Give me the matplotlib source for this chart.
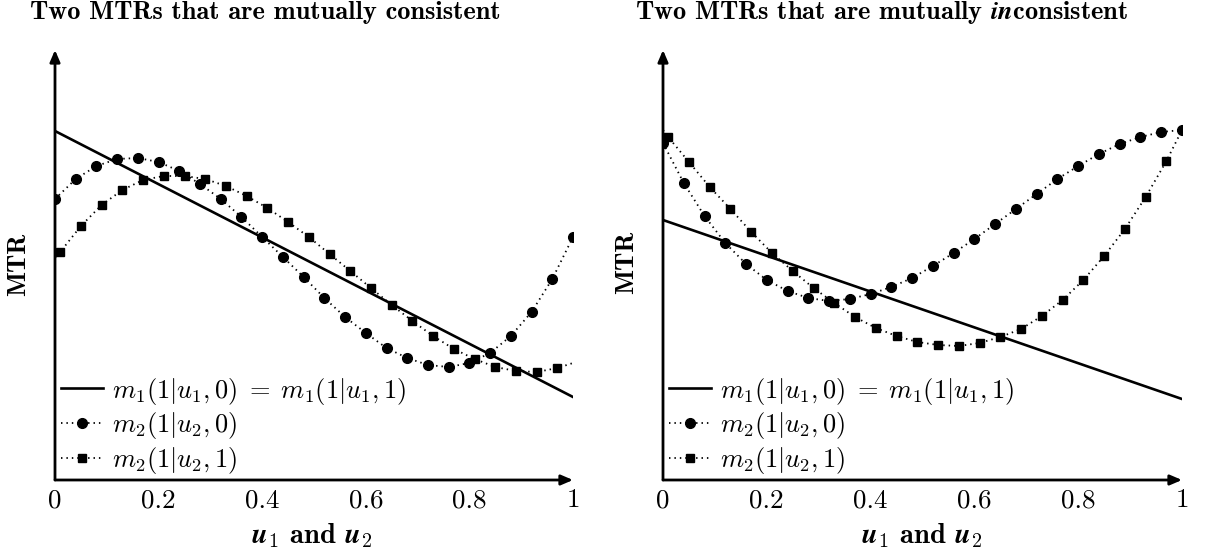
import matplotlib
matplotlib.use("Agg")
import matplotlib.pyplot as plt
import numpy as np

plt.rcParams['mathtext.fontset'] = 'cm'
plt.rcParams['font.family'] = 'cmr10'
plt.rcParams['axes.unicode_minus'] = False
plt.rcParams['axes.formatter.use_mathtext'] = True

# ---- data (y in arbitrary MTR units) ----
u_line = [0.0, 1.0]
u_circ = [0.00, 0.04, 0.08, 0.12, 0.16, 0.20, 0.24, 0.28, 0.32, 0.36, 0.40, 0.44, 0.48,
          0.52, 0.56, 0.60, 0.64, 0.68, 0.72, 0.76, 0.80, 0.84, 0.88, 0.92, 0.96, 1.00]
u_sq = [0.00, 0.01, 0.05, 0.09, 0.13, 0.17, 0.21, 0.25, 0.29, 0.33, 0.37, 0.41, 0.45, 0.49,
        0.53, 0.57, 0.61, 0.65, 0.69, 0.73, 0.77, 0.81, 0.85, 0.89, 0.93, 0.97, 1.00]

left_m1 = [3.49, 0.83]
left_m2_0 = [2.81, 3.01, 3.14, 3.21, 3.22, 3.18, 3.09, 2.96, 2.81, 2.63, 2.43, 2.23, 2.03,
             1.82, 1.63, 1.47, 1.32, 1.22, 1.15, 1.13, 1.17, 1.27, 1.44, 1.68, 2.01, 2.43]
left_m2_1 = [2.22, 2.28, 2.54, 2.75, 2.90, 3.00, 3.04, 3.04, 3.01, 2.94, 2.84, 2.72, 2.58, 2.43,
             2.26, 2.09, 1.92, 1.75, 1.59, 1.44, 1.31, 1.21, 1.13, 1.09, 1.08, 1.12, 1.17]

right_m1 = [2.60, 0.81]
right_m2_0 = [3.37, 2.97, 2.64, 2.37, 2.16, 2.00, 1.89, 1.82, 1.79, 1.81, 1.86, 1.93, 2.02,
              2.14, 2.27, 2.41, 2.56, 2.71, 2.86, 3.01, 3.14, 3.26, 3.36, 3.43, 3.48, 3.50]
right_m2_1 = [3.50, 3.43, 3.18, 2.93, 2.71, 2.48, 2.27, 2.09, 1.92, 1.77, 1.63, 1.52, 1.44, 1.38,
              1.35, 1.34, 1.37, 1.43, 1.51, 1.64, 1.80, 2.00, 2.24, 2.51, 2.83, 3.19, 3.50]

xticks = [0, 0.2, 0.4, 0.6, 0.8, 1]
xticklabels = ['0', '0.2', '0.4', '0.6', '0.8', '1']

labels = [r'$m_1(1|u_1,0)\;=\;m_1(1|u_1,1)$', r'$m_2(1|u_2,0)$', r'$m_2(1|u_2,1)$']

W, H = 1227, 554
fig = plt.figure(figsize=(W / 100, H / 100), dpi=100)

FS = 19.5
LFS = 19.0


def make_axes(x0, x1, m1, m20, m21):
    ax = fig.add_axes([x0 / W, (H - 480) / H, (x1 - x0) / W, 430 / H])
    ax.plot(u_line, m1, color='black', lw=1.9, label=labels[0])
    ax.plot(u_circ, m20, color='black', lw=1.3, ls=(0, (0.8, 2.2)), marker='o', ms=7.0,
            label=labels[1])
    ax.plot(u_sq, m21, color='black', lw=1.3, ls=(0, (0.8, 2.2)), marker='s', ms=6.4,
            markevery=list(range(1, len(u_sq) - 1)), label=labels[2])
    ax.set_xlim(0, 1)
    ax.set_ylim(0, 4.30)
    for s in ax.spines.values():
        s.set_visible(False)
    ax.set_yticks([])
    ax.set_xticks(xticks)
    ax.set_xticklabels(xticklabels, fontsize=FS)
    ax.tick_params(axis='x', length=0, pad=6)
    ax.patch.set_alpha(0)
    ax.annotate('', xy=(1.0, 0), xytext=(0, 0), xycoords='axes fraction',
                arrowprops=dict(arrowstyle='-|>,head_length=0.7,head_width=0.3', lw=2.0,
                                color='black', shrinkA=0, shrinkB=0), annotation_clip=False)
    ax.annotate('', xy=(0, 1.0), xytext=(0, 0), xycoords='axes fraction',
                arrowprops=dict(arrowstyle='-|>,head_length=0.7,head_width=0.3', lw=2.0,
                                color='black', shrinkA=0, shrinkB=0), annotation_clip=False)
    ax.legend(loc='lower left', bbox_to_anchor=(0.004, 0.0), frameon=False, fontsize=LFS,
              handlelength=1.6, handletextpad=0.35, labelspacing=0.14, borderpad=0.15,
              borderaxespad=0.0)
    return ax


axL = make_axes(55, 573, left_m1, left_m2_0, left_m2_1)
axR = make_axes(663, 1182, right_m1, right_m2_0, right_m2_1)

# titles
TFS = 19
fig.text(265 / W, 1 - 13 / H, 'Two MTRs that are mutually consistent', ha='center', va='center',
         family='cmb10', fontsize=TFS)
fig.text(882 / W, 1 - 13 / H, r'Two MTRs that are mutually $\mathbfit{in}$consistent',
         ha='center', va='center', family='cmb10', fontsize=TFS)

# y labels
fig.text(19 / W, 1 - 264 / H, 'MTR', rotation=90, ha='center', va='center', family='cmb10',
         fontsize=19)
fig.text(627 / W, 1 - 262 / H, 'MTR', rotation=90, ha='center', va='center', family='cmb10',
         fontsize=19)

# x labels
for xc in (312, 922):
    fig.text(xc / W, 1 - 536 / H, r'$\mathbfit{u}_\mathbf{1}$ and $\mathbfit{u}_\mathbf{2}$',
             ha='center', va='center', family='cmb10', fontsize=20.5)

fig.savefig('out.png', dpi=100)
